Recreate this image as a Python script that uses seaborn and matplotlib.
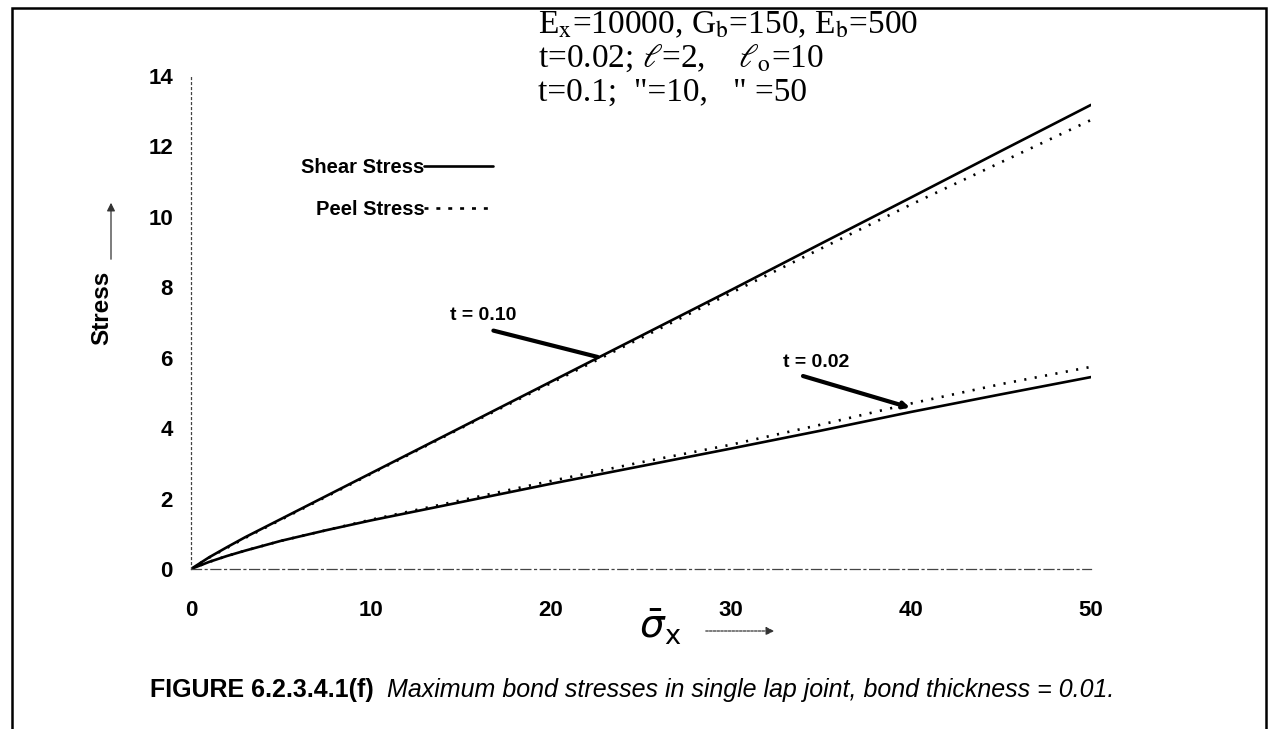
import matplotlib
matplotlib.use("Agg")
import matplotlib.pyplot as plt
import seaborn as sns
import pandas as pd
from matplotlib.lines import Line2D
from matplotlib.patches import Rectangle

# ---- data ----
sigma_x = [0, 1, 2, 3, 5, 7.5, 10, 15, 20, 25, 30, 35, 40, 45, 50]
shear_t010 = [0, 0.33, 0.62, 0.90, 1.42, 2.07, 2.72, 4.02, 5.32, 6.62, 7.92, 9.24, 10.55, 11.87, 13.18]
peel_t010 = [0, 0.32, 0.60, 0.88, 1.40, 2.05, 2.70, 4.00, 5.28, 6.56, 7.84, 9.10, 10.35, 11.55, 12.75]
shear_t002 = [0, 0.20, 0.37, 0.52, 0.80, 1.10, 1.38, 1.90, 2.42, 2.92, 3.42, 3.93, 4.46, 4.96, 5.45]
peel_t002 = [0, 0.20, 0.37, 0.52, 0.80, 1.10, 1.40, 1.95, 2.50, 3.03, 3.53, 4.10, 4.70, 5.25, 5.74]

x_ticks = [0, 10, 20, 30, 40, 50]
y_ticks = [0, 2, 4, 6, 8, 10, 12, 14]
series_names = ["Shear Stress", "Peel Stress"]
thickness_labels = ["t = 0.10", "t = 0.02"]
param_lines = [
    r"E$_\mathrm{x}$=10000, G$_\mathrm{b}$=150, E$_\mathrm{b}$=500",
    r"t=0.02; $\ell$=2,    $\ell_\mathrm{o}$=10",
    "t=0.1;  \"=10,   \" =50",
]
caption_bold = "FIGURE 6.2.3.4.1(f)"
caption_italic = "Maximum bond stresses in single lap joint, bond thickness = 0.01."

rows = []
for t, sh, pe in [(0.10, shear_t010, peel_t010), (0.02, shear_t002, peel_t002)]:
    for xv, yv in zip(sigma_x, sh):
        rows.append({"sigma": xv, "stress": yv, "kind": "Shear Stress", "t": t, "unit": f"{t}-shear"})
    for xv, yv in zip(sigma_x, pe):
        rows.append({"sigma": xv, "stress": yv, "kind": "Peel Stress", "t": t, "unit": f"{t}-peel"})
df = pd.DataFrame(rows)

sns.set_theme(style="white")
plt.rcParams["font.family"] = ["Liberation Sans", "DejaVu Sans"]
plt.rcParams["mathtext.fontset"] = "dejavusans"
for k in ["text.color", "axes.labelcolor", "xtick.color", "ytick.color"]:
    plt.rcParams[k] = "black"

W, H = 1274, 729
fig = plt.figure(figsize=(W / 100, H / 100), dpi=100)
fig.patch.set_facecolor("white")
ax = fig.add_axes([191 / W, 1 - 569 / H, 900 / W, 493 / H])

dot = (0.8, 3.2)
sns.lineplot(data=df, x="sigma", y="stress", style="kind", units="unit", estimator=None,
             color="black", dashes={"Shear Stress": "", "Peel Stress": dot},
             linewidth=1.9, legend=False, ax=ax, sort=False)

ax.set_xlim(0, 50)
ax.set_ylim(0, 14)
ax.set_xticks(x_ticks)
ax.set_yticks(y_ticks)
ax.set_xticklabels([str(v) for v in x_ticks], fontsize=16, fontweight="bold")
ax.set_yticklabels([str(v) for v in y_ticks], fontsize=16, fontweight="bold")
ax.tick_params(axis="x", length=0, pad=22)
ax.tick_params(axis="y", length=4, width=0.8, direction="inout", pad=11, color="#444444")
ax.set_xlabel("")
for s in ["top", "right"]:
    ax.spines[s].set_visible(False)
ax.spines["left"].set_linestyle((0, (1.5, 2.5)))
ax.spines["left"].set_linewidth(0.9)
ax.spines["left"].set_color("#444444")
ax.spines["bottom"].set_linestyle((0, (8, 3, 1.5, 3)))
ax.spines["bottom"].set_linewidth(0.9)
ax.spines["bottom"].set_color("#444444")

ax.set_ylabel("Stress", fontsize=17.5, fontweight="bold")
ax.yaxis.set_label_coords((113 - 191) / 900, 0.53)

# arrows accompanying axis titles
ax.annotate("", xy=(111, 729 - 200), xytext=(111, 729 - 262), xycoords="figure pixels",
            arrowprops=dict(arrowstyle="-|>", lw=0.9, color="#333333", mutation_scale=12))
ax.annotate("", xy=(777, 729 - 631), xytext=(703, 729 - 631), xycoords="figure pixels",
            arrowprops=dict(arrowstyle="-|>", lw=0.9, color="#333333", mutation_scale=12,
                            linestyle=(0, (2, 1))))
fig.text(660 / W, 1 - 627 / H, r"$\bar{\sigma}_\mathrm{x}$", fontsize=28, ha="center", va="center",
         math_fontfamily="dejavusans")

# legend
handles = [Line2D([], [], color="black", lw=1.9),
           Line2D([], [], color="black", lw=1.9, dashes=(1.5, 3.0))]
ax.legend(handles, series_names, loc="upper left", bbox_to_anchor=(301 / W, 1 - 158 / H),
          bbox_transform=fig.transFigure, frameon=False, markerfirst=False,
          handletextpad=0.0, handlelength=3.4, labelspacing=1.15, borderpad=0, borderaxespad=0,
          prop={"weight": "bold", "size": 14.5})

# curve labels
ax.text(14.4, 7.19, thickness_labels[0], fontsize=14, fontweight="bold", ha="left", va="center")
ax.annotate("", xy=(22.6, 6.02), xytext=(16.8, 6.77),
            arrowprops=dict(arrowstyle="-", lw=3.0, color="black", shrinkA=0, shrinkB=0))
ax.text(32.9, 5.85, thickness_labels[1], fontsize=14, fontweight="bold", ha="left", va="center")
ax.annotate("", xy=(39.95, 4.58), xytext=(34.0, 5.48),
            arrowprops=dict(arrowstyle="-|>", lw=3.0, color="black", shrinkA=0, shrinkB=0,
                            mutation_scale=9))

# parameter block (serif)
for i, line in enumerate(param_lines):
    fig.text(538 / W, 1 - (33 + 34 * i) / H, line, fontsize=24, ha="left", va="baseline",
             family=["Liberation Serif", "DejaVu Serif"], math_fontfamily="stix")

# caption
t1 = fig.text(150 / W, 1 - 697 / H, caption_bold, fontsize=18, fontweight="bold",
              ha="left", va="baseline")
ax.annotate(caption_italic, xy=(1, 0), xycoords=t1, xytext=(13, 0), textcoords="offset pixels",
            fontsize=18, style="italic", ha="left", va="bottom", annotation_clip=False)

# outer frame
fig.patches.append(Rectangle((12 / W, -0.1), (1266 - 12) / W, 1.1 - 8 / H,
                             transform=fig.transFigure, fill=False, lw=1.8, ec="black"))

fig.savefig("out.png", dpi=100, facecolor="white")
